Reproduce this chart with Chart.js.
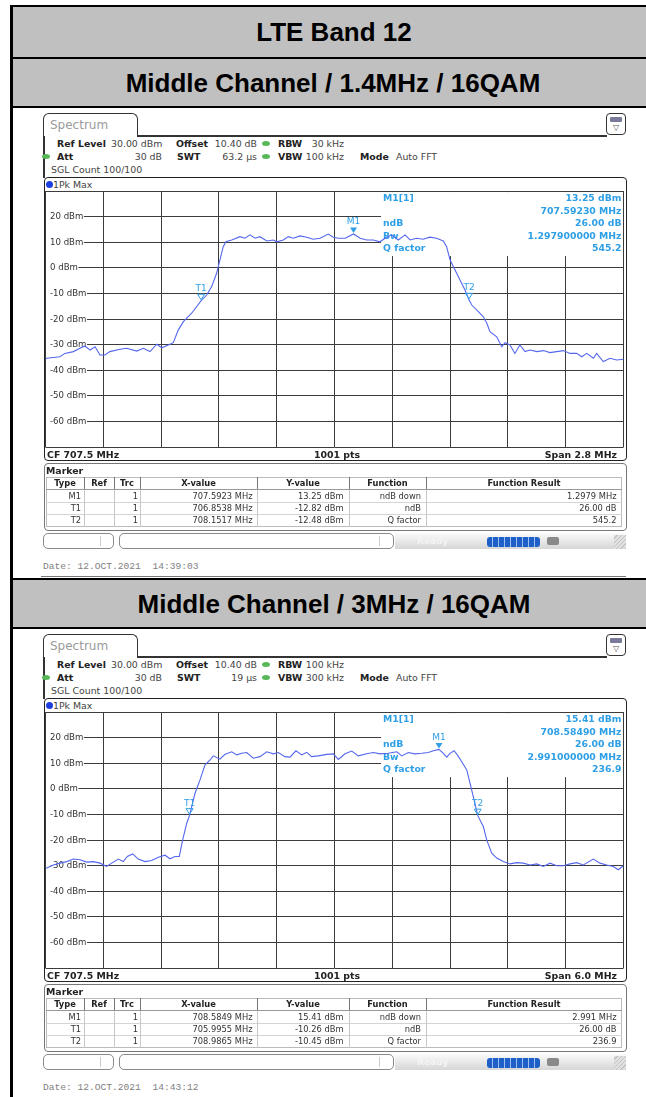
<!DOCTYPE html>
<html><head><meta charset="utf-8">
<script src="https://cdn.jsdelivr.net/npm/chart.js@4.4.1/dist/chart.umd.min.js"></script>
<style>
html,body{margin:0;padding:0;background:#fff;}
body{width:646px;height:1097px;position:relative;overflow:hidden;font-family:"DejaVu Sans",sans-serif;}
.a{position:absolute;white-space:pre;box-sizing:border-box;}
canvas{position:absolute;}
</style></head><body>
<script>
// ---------------- DATA ----------------
const sectionTitles = ['LTE Band 12', 'Middle Channel / 1.4MHz / 16QAM', 'Middle Channel / 3MHz / 16QAM'];
const centerMHz = 707.5;
const spanMHz = [2.8, 6.0];
const yTicks = [20, 10, 0, -10, -20, -30, -40, -50, -60];
const yMin = -70, yMax = 30;
const rbwText = ['30 kHz', '100 kHz'];
const swtText = ['63.2 µs', '19 µs'];
const vbwText = ['100 kHz', '300 kHz'];
const dateText = ['Date: 12.OCT.2021  14:39:03', 'Date: 12.OCT.2021  14:43:12'];

// trace 1 (1.4 MHz)
const freq1 = [706.100,706.106,706.170,706.194,706.235,706.267,706.291,706.316,706.340,706.364,706.388,706.412,706.461,706.493,706.542,706.574,706.606,706.639,706.663,706.695,706.719,706.743,706.768,706.808,706.854,706.881,706.905,706.929,706.945,706.961,706.974,707.002,707.042,707.066,707.091,707.115,707.139,707.172,707.204,707.220,707.252,707.276,707.300,707.333,707.365,707.397,707.430,707.470,707.494,707.518,707.552,707.592,707.624,707.656,707.688,707.720,707.745,707.777,707.809,707.842,707.866,707.898,707.930,707.962,707.995,708.027,708.043,708.060,708.084,708.108,708.132,708.152,708.165,708.197,708.221,708.238,708.253,708.286,708.310,708.326,708.350,708.374,708.398,708.423,708.447,708.480,708.512,708.544,708.576,708.608,708.641,708.673,708.698,708.722,708.754,708.770,708.802,708.835,708.867,708.899];
const level1 = [-35.5,-35.3,-34.7,-33.4,-32.7,-31.4,-30.5,-32.1,-30.8,-34.0,-34.0,-32.7,-31.8,-31.4,-32.5,-31.4,-32.7,-29.8,-31.2,-30.1,-29.2,-24.3,-21.0,-17.7,-12.8,-10.6,-7.3,-2.1,3.1,8.3,10.2,10.9,12.2,11.6,12.9,11.6,12.2,10.5,10.9,10.2,10.9,12.2,11.6,12.5,12.0,11.2,11.6,13.2,12.0,11.6,11.6,13.25,11.6,10.9,10.9,10.2,11.6,12.9,10.9,12.9,10.9,11.6,11.2,12.0,11.6,10.5,8.3,3.1,-0.8,-4.7,-8.6,-12.5,-14.5,-17.1,-19.1,-21.6,-24.9,-26.9,-30.8,-29.2,-30.1,-33.4,-30.1,-32.7,-32.1,-32.7,-32.3,-33.1,-32.7,-32.3,-33.4,-33.4,-34.7,-33.4,-35.3,-33.4,-36.6,-35.3,-36.0,-35.7];

// trace 2 (3 MHz)
const freq2 = [704.500,704.512,704.581,704.651,704.720,704.789,704.858,704.928,704.996,705.066,705.135,705.187,705.256,705.308,705.349,705.405,705.463,705.533,705.602,705.671,705.741,705.792,705.844,705.889,705.924,705.966,705.996,706.052,706.104,706.156,706.208,706.242,706.311,706.363,706.433,706.485,706.537,706.589,706.657,706.727,706.796,706.865,706.917,706.986,707.038,707.100,707.160,707.212,707.263,707.332,707.419,707.488,707.540,707.609,707.679,707.747,707.834,707.903,707.972,708.059,708.146,708.198,708.266,708.336,708.405,708.474,708.526,708.585,708.630,708.665,708.699,708.741,708.775,708.821,708.873,708.907,708.941,708.987,709.045,709.080,709.132,709.184,709.252,709.322,709.391,709.460,709.530,709.599,709.668,709.737,709.807,709.876,709.945,710.014,710.083,710.187,710.256,710.326,710.394,710.446,710.498];
const level2 = [-31.0,-30.9,-29.7,-29.0,-28.4,-27.4,-27.7,-28.6,-28.4,-29.0,-30.3,-29.0,-27.4,-28.4,-26.4,-25.4,-27.4,-28.4,-28.0,-26.7,-25.9,-27.3,-26.4,-26.4,-19.9,-13.4,-10.26,-1.7,3.5,9.4,11.3,12.9,11.6,13.5,14.5,13.3,13.9,14.2,12.0,12.6,14.5,13.7,14.2,12.6,12.4,14.9,13.3,14.3,12.6,12.9,13.5,13.7,11.5,13.7,14.8,12.9,13.7,14.2,13.7,13.9,14.5,12.9,14.2,13.7,13.9,14.2,14.9,15.41,13.9,12.4,13.9,14.9,13.3,10.6,7.4,2.2,-3.0,-10.45,-14.7,-19.9,-25.1,-27.0,-28.4,-29.3,-28.8,-29.0,-29.7,-29.3,-30.3,-29.0,-30.0,-30.0,-29.3,-28.8,-29.7,-27.4,-29.0,-29.7,-30.3,-31.6,-30.0];

// markers
const markerNames = ['M1', 'T1', 'T2'];
const markerFreq1 = [707.5923, 706.8538, 708.1517];
const markerLevel1 = [13.25, -12.82, -12.48];
const markerFreq2 = [708.5849, 705.9955, 708.9865];
const markerLevel2 = [15.41, -10.26, -10.45];
const markerFunc = ['ndB down', 'ndB', 'Q factor'];
const funcResult1 = ['1.2979 MHz', '26.00 dB', '545.2'];
const funcResult2 = ['2.991 MHz', '26.00 dB', '236.9'];
const infoLabels = ['M1[1]', '', 'ndB', 'Bw', 'Q factor'];
const infoValues1 = ['13.25 dBm', '707.59230 MHz', '26.00 dB', '1.297900000 MHz', '545.2'];
const infoValues2 = ['15.41 dBm', '708.58490 MHz', '26.00 dB', '2.991000000 MHz', '236.9'];
const xValueText1 = ['707.5923 MHz', '706.8538 MHz', '708.1517 MHz'];
const xValueText2 = ['708.5849 MHz', '705.9955 MHz', '708.9865 MHz'];
const yValueText1 = ['13.25 dBm', '-12.82 dBm', '-12.48 dBm'];
const yValueText2 = ['15.41 dBm', '-10.26 dBm', '-10.45 dBm'];

// ---------------- HELPERS ----------------
const body = document.body;
function box(x, y, w, h, st) {
  const d = document.createElement('div'); d.className = 'a';
  Object.assign(d.style, { left: x + 'px', top: y + 'px', width: w + 'px', height: h + 'px' }, st || {});
  body.appendChild(d); return d;
}
function text(x, yc, s, o) {
  o = o || {};
  const size = o.size || 9.4;
  const h = Math.ceil(size * 1.5);
  const d = document.createElement('div'); d.className = 'a'; d.textContent = s;
  d.style.top = (yc - h / 2) + 'px'; d.style.height = h + 'px'; d.style.lineHeight = h + 'px';
  d.style.fontSize = size + 'px';
  d.style.fontFamily = o.family || '"DejaVu Sans"';
  d.style.fontWeight = o.weight || 'normal';
  d.style.color = o.color || '#222';
  if (o.align === 'right') { d.style.left = (x - 600) + 'px'; d.style.width = '600px'; d.style.textAlign = 'right'; }
  else if (o.align === 'center') { d.style.left = (x - 400) + 'px'; d.style.width = '800px'; d.style.textAlign = 'center'; }
  else d.style.left = x + 'px';
  body.appendChild(d); return d;
}

// ---------------- SECTION HEADERS ----------------
const BLACK = '#000', GRAY = '#c0c0c0';
const TITLE = { size: 26, weight: 'bold', family: '"Liberation Sans"', align: 'center', color: '#000' };
box(10, 5, 636, 2, { background: BLACK });
box(13, 7, 633, 50, { background: GRAY });
text(334, 32, sectionTitles[0], TITLE);
box(10, 57, 636, 2, { background: BLACK });
box(13, 59, 633, 47, { background: GRAY });
text(333, 83, sectionTitles[1], TITLE);
box(10, 106, 636, 2, { background: BLACK });
box(41, 576, 585, 1, { background: '#777' });
box(10, 578, 636, 2, { background: BLACK });
box(13, 580, 633, 47, { background: GRAY });
text(334, 604, sectionTitles[2], TITLE);
box(10, 627, 636, 2, { background: BLACK });
box(10, 5, 3, 1092, { background: BLACK });

// ---------------- PANEL ----------------
const MARK = '#2e9fe6';
const TRACE = '#5567ee';

function makePlugin(cfg) {
  return {
    id: 'rs',
    beforeDatasetsDraw(chart) {
      const { ctx, chartArea: a, scales: { x, y } } = chart;
      const snap = v => Math.round(v - 0.5) + 0.5;
      ctx.save();
      ctx.strokeStyle = '#3c3c3c'; ctx.lineWidth = 1;
      const span = x.max - x.min;
      ctx.beginPath();
      for (let i = 0; i <= 10; i++) {
        const px = snap(x.getPixelForValue(x.min + span * i / 10));
        ctx.moveTo(px, a.top); ctx.lineTo(px, a.bottom);
      }
      for (let v = yMin; v <= yMax; v += 10) {
        const py = snap(y.getPixelForValue(v));
        ctx.moveTo(a.left, py); ctx.lineTo(a.right, py);
      }
      ctx.stroke();
      // marker info box
      const bx = a.left + 335.5;
      ctx.fillStyle = '#fff';
      ctx.fillRect(bx, a.top + 1, a.right - bx - 0.5, 64);
      ctx.font = 'bold 9.3px "DejaVu Sans"';
      ctx.fillStyle = MARK; ctx.textBaseline = 'middle';
      infoLabels.forEach((t, i) => { ctx.textAlign = 'left'; ctx.fillText(t, bx + 2, a.top + 7.5 + 12.5 * i); });
      cfg.info.forEach((t, i) => { ctx.textAlign = 'right'; ctx.fillText(t, a.right - 2, a.top + 7.5 + 12.5 * i); });
      // y labels
      ctx.font = '8.6px "DejaVu Sans"'; ctx.textAlign = 'left';
      yTicks.forEach(v => {
        const py = snap(y.getPixelForValue(v));
        const s = v + ' dBm';
        const w = ctx.measureText(s).width;
        ctx.fillStyle = '#fff'; ctx.fillRect(a.left + 0.5, py - 5, w + 4.5, 10);
        ctx.fillStyle = '#333'; ctx.fillText(s, a.left + 4.5, py + 0.5);
      });
      ctx.restore();
    },
    afterDatasetsDraw(chart) {
      const { ctx, scales: { x, y } } = chart;
      ctx.save();
      ctx.font = '9px "DejaVu Sans"'; ctx.textAlign = 'center'; ctx.textBaseline = 'middle';
      markerNames.forEach((n, i) => {
        const px = x.getPixelForValue(cfg.mf[i]);
        const py = y.getPixelForValue(cfg.ml[i]);
        ctx.beginPath();
        ctx.moveTo(px, py - 1); ctx.lineTo(px - 3.5, py - 6.5); ctx.lineTo(px + 3.5, py - 6.5); ctx.closePath();
        if (n[0] === 'M') { ctx.fillStyle = MARK; ctx.fill(); }
        else { ctx.strokeStyle = MARK; ctx.lineWidth = 1; ctx.stroke(); }
        ctx.fillStyle = MARK;
        ctx.fillText(n, px, py - 12);
      });
      ctx.restore();
    }
  };
}

function buildPanel(B, k) {
  const freq = k === 0 ? freq1 : freq2, level = k === 0 ? level1 : level2;
  const mf = k === 0 ? markerFreq1 : markerFreq2, ml = k === 0 ? markerLevel1 : markerLevel2;
  const info = k === 0 ? infoValues1 : infoValues2;
  const xv = k === 0 ? xValueText1 : xValueText2, yv = k === 0 ? yValueText1 : yValueText2;
  const fr = k === 0 ? funcResult1 : funcResult2;

  // tab & top line
  box(43, 113 + B, 95, 24, { border: '1.5px solid #333', borderBottom: 'none', borderRadius: '6px 6px 0 0', background: '#fff' });
  text(50, 125 + B, 'Spectrum', { size: 12, color: '#9a9a9a' });
  box(137, 135 + B, 470, 1.5, { background: '#333' });
  box(43, 136 + B, 1.5, 42, { background: '#333' });
  box(606, 113 + B, 20, 22, { border: '1.5px solid #333', borderRadius: '4px', background: '#fff' });
  box(610, 117 + B, 12, 5, { background: '#7a7a9a', borderRadius: '1px' });
  text(616, 128 + B, '▽', { size: 8, align: 'center', color: '#555' });

  // parameters
  const dot = (x, y) => box(x - 4, y - 2.5, 8, 5, { background: '#58b858', borderRadius: '50%' });
  text(57, 143 + B, 'Ref Level', { weight: 'bold' });
  text(111, 143 + B, '30.00 dBm', { color: '#444' });
  text(176, 143 + B, 'Offset', { weight: 'bold' });
  text(257, 143 + B, '10.40 dB', { align: 'right', color: '#444' });
  dot(266, 143 + B);
  text(278, 143 + B, 'RBW', { weight: 'bold' });
  text(344, 143 + B, rbwText[k], { align: 'right', color: '#444' });
  dot(46, 156 + B);
  text(57, 156 + B, 'Att', { weight: 'bold' });
  text(162, 156 + B, '30 dB', { align: 'right', color: '#444' });
  text(177, 156 + B, 'SWT', { weight: 'bold' });
  text(257, 156 + B, swtText[k], { align: 'right', color: '#444' });
  dot(266, 156 + B);
  text(278, 156 + B, 'VBW', { weight: 'bold' });
  text(344, 156 + B, vbwText[k], { align: 'right', color: '#444' });
  text(360, 156 + B, 'Mode', { weight: 'bold' });
  text(396, 156 + B, 'Auto FFT', { color: '#444' });
  text(51, 169 + B, 'SGL Count 100/100', { color: '#444' });

  // trace window frame
  box(43.5, 177 + B, 583, 284, { border: '1.5px solid #222', borderRadius: '4px' });
  box(46, 180.5 + B, 7, 7, { background: '#1d3fe0', borderRadius: '50%' });
  text(53, 184 + B, '1Pk Max', { color: '#444' });

  // chart
  const cv = document.createElement('canvas');
  cv.width = 582; cv.height = 259;
  cv.style.left = '44px'; cv.style.top = (190 + B) + 'px';
  cv.style.width = '582px'; cv.style.height = '259px';
  body.appendChild(cv);
  const half = spanMHz[k] / 2;
  new Chart(cv.getContext('2d'), {
    type: 'line',
    data: { datasets: [{ data: freq.map((f, i) => ({ x: f, y: level[i] })), borderColor: TRACE, borderWidth: 1.1, pointRadius: 0, tension: 0, fill: false }] },
    options: {
      responsive: false, animation: false, devicePixelRatio: 1,
      layout: { padding: { left: 1.5, right: 2.5, top: 1.1, bottom: 1.9 } },
      plugins: { legend: { display: false }, tooltip: { enabled: false } },
      scales: {
        x: { type: 'linear', min: centerMHz - half, max: centerMHz + half, display: false },
        y: { type: 'linear', min: yMin, max: yMax, display: false }
      }
    },
    plugins: [makePlugin({ mf, ml, info })]
  });

  // bottom row
  text(47, 454 + B, 'CF ' + centerMHz.toFixed(1) + ' MHz', { weight: 'bold' });
  text(337, 454 + B, '1001 pts', { weight: 'bold', align: 'center' });
  text(617, 454 + B, 'Span ' + spanMHz[k].toFixed(1) + ' MHz', { weight: 'bold', align: 'right' });

  // marker table
  box(43.5, 463 + B, 583, 68, { border: '1px solid #777', borderRadius: '4px' });
  text(46, 470 + B, 'Marker', { weight: 'bold' });
  const colX = [46, 84, 114, 140, 257, 349, 426, 622];
  box(46, 477 + B, 576, 50, { border: '1px solid #bbb' });
  box(46, 489 + B, 576, 1, { background: '#999' });
  box(46, 502 + B, 576, 1, { background: '#d4d4d4' });
  box(46, 514 + B, 576, 1, { background: '#d4d4d4' });
  for (let i = 1; i < 7; i++) {
    box(colX[i], 477 + B, 1, 12, { background: '#777' });
    box(colX[i], 490 + B, 1, 37, { background: '#c8c8c8' });
  }
  const hdr = ['Type', 'Ref', 'Trc', 'X-value', 'Y-value', 'Function', 'Function Result'];
  hdr.forEach((h, i) => text((colX[i] + colX[i + 1]) / 2, 483 + B, h, { size: 8.3, weight: 'bold', align: 'center' }));
  const rowY = [496, 508, 520];
  markerNames.forEach((n, r) => {
    const yy = rowY[r] + B;
    text(81, yy, n, { size: 8.3, align: 'right', color: '#333' });
    text(138, yy, '1', { size: 8.3, align: 'right', color: '#333' });
    text(252.5, yy, xv[r], { size: 8.3, align: 'right', color: '#333' });
    text(343.5, yy, yv[r], { size: 8.3, align: 'right', color: '#333' });
    text(421, yy, markerFunc[r], { size: 8.3, align: 'right', color: '#333' });
    text(616.5, yy, fr[r], { size: 8.3, align: 'right', color: '#333' });
  });

  // status bar
  box(43, 533 + B, 71, 16, { border: '1px solid #8a8a8a', borderRadius: '5px', background: '#fff' });
  box(100, 536 + B, 1, 10, { background: '#ccc' });
  box(119, 533 + B, 275, 16, { border: '1px solid #8a8a8a', borderRadius: '5px', background: '#fff' });
  box(379, 536 + B, 1, 10, { background: '#ccc' });
  box(395, 533 + B, 231, 16, { background: 'linear-gradient(#fbfbfb, #d6d6d6)' });
  text(417, 541 + B, 'Ready', { size: 9, weight: 'bold', color: '#f4f4f4' });
  box(487, 536.5 + B, 53, 10, { background: 'repeating-linear-gradient(90deg,#1f60c8 0px,#1f60c8 5px,#9fc0f0 5px,#9fc0f0 6px)', borderRadius: '3px' });
  box(547, 537 + B, 12, 8, { background: '#8a8a8a', borderRadius: '2px' });
  box(614, 535 + B, 12, 14, { background: 'repeating-linear-gradient(135deg,#e0e0e0 0px,#e0e0e0 2px,#c4c4c4 2px,#c4c4c4 3px)' });

  // date
  text(43, 566 + B, dateText[k], { size: 9.6, family: '"Liberation Mono"', color: '#808080' });
}

buildPanel(0, 0);
buildPanel(521, 1);
</script>
</body></html>
